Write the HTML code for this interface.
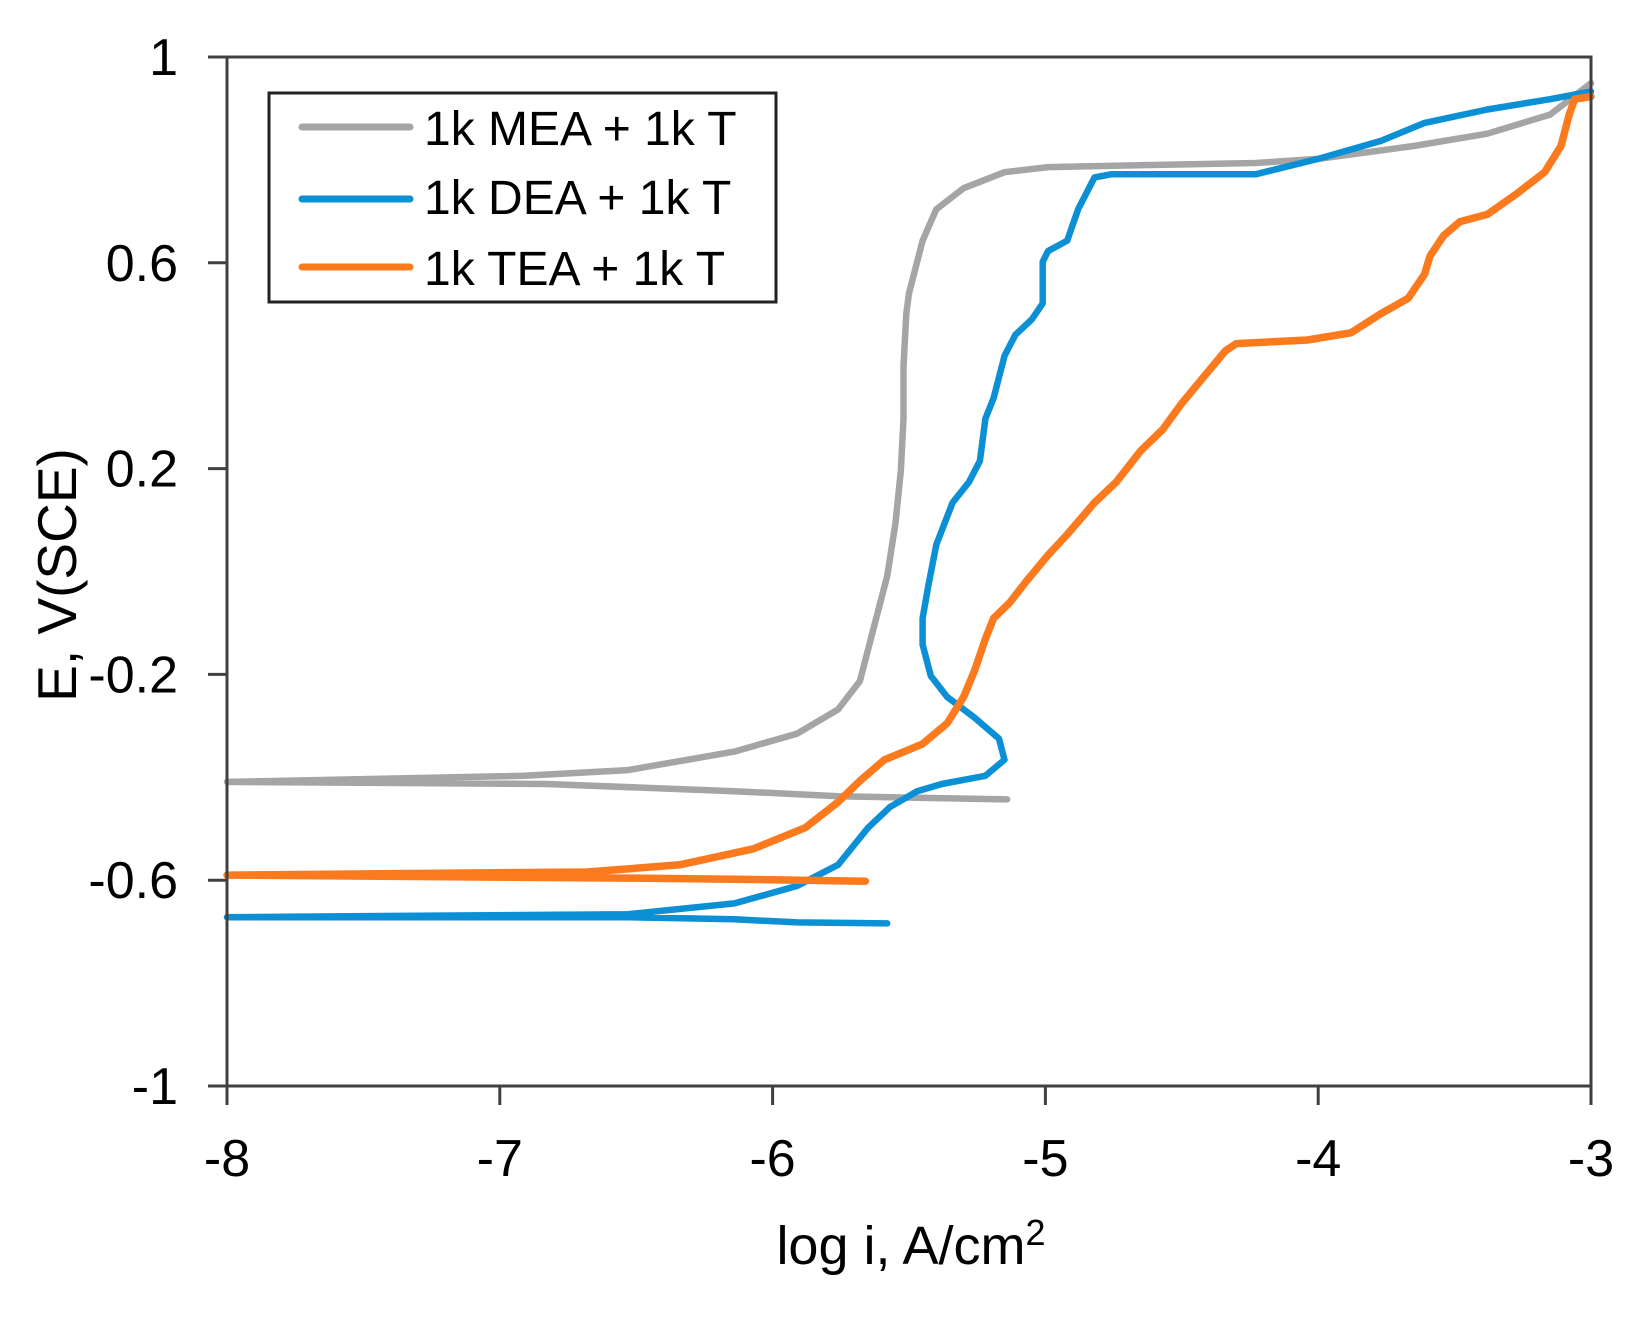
<!DOCTYPE html>
<html><head><meta charset="utf-8"><style>
html,body{margin:0;padding:0;background:#fff;}
svg{display:block;font-family:"Liberation Sans",Arial,sans-serif;}
</style></head><body>
<svg id="chart" width="1641" height="1317" viewBox="0 0 1641 1317" xmlns="http://www.w3.org/2000/svg">
<g id="plot"></g>
<g id="axes"></g>
<text x="911" y="1264" font-size="54" text-anchor="middle" fill="#000">log i, A/cm<tspan dy="-19" font-size="36">2</tspan></text>
<text transform="translate(76,575) rotate(-90)" font-size="55" text-anchor="middle" fill="#000">E, V(SCE)</text>
<g>
<rect x="269" y="93" width="507" height="209" fill="#fff" stroke="#222" stroke-width="3"/>
<g><line x1="302" y1="127" x2="410" y2="127" stroke="#a5a5a5" stroke-width="7" stroke-linecap="round"/><text x="424" y="145" font-size="48" fill="#000">1k MEA + 1k T</text></g>
<g><line x1="302" y1="199" x2="410" y2="199" stroke="#0b8fd5" stroke-width="7" stroke-linecap="round"/><text x="424" y="214" font-size="48" fill="#000">1k DEA + 1k T</text></g>
<g><line x1="302" y1="267" x2="410" y2="267" stroke="#fc7a1e" stroke-width="7" stroke-linecap="round"/><text x="424" y="285" font-size="48" fill="#000">1k TEA + 1k T</text></g>
</g>
</svg>
<script>
const xTicks = [-8,-7,-6,-5,-4,-3];
const yTicks = [1,0.6,0.2,-0.2,-0.6,-1];
const yTickLabels = ["1","0.6","0.2","-0.2","-0.6","-1"];
const meaX = [-5.14,-5.76,-6.14,-6.83,-8.00,-6.91,-6.53,-6.14,-5.91,-5.76,-5.68,-5.63,-5.58,-5.55,-5.53,-5.52,-5.52,-5.51,-5.50,-5.48,-5.45,-5.40,-5.30,-5.15,-4.99,-4.61,-4.23,-4.00,-3.65,-3.38,-3.15,-3.00];
const meaY = [-0.443,-0.437,-0.427,-0.413,-0.409,-0.397,-0.386,-0.350,-0.315,-0.268,-0.213,-0.111,-0.009,0.093,0.195,0.297,0.399,0.501,0.541,0.582,0.643,0.704,0.745,0.776,0.786,0.790,0.794,0.802,0.827,0.851,0.888,0.949];
const deaX = [-5.58,-5.91,-6.14,-6.53,-8.00,-6.53,-6.14,-5.91,-5.76,-5.65,-5.57,-5.47,-5.38,-5.22,-5.15,-5.17,-5.26,-5.36,-5.42,-5.45,-5.45,-5.43,-5.40,-5.34,-5.28,-5.24,-5.22,-5.19,-5.15,-5.11,-5.05,-5.01,-5.01,-4.99,-4.92,-4.88,-4.82,-4.76,-4.23,-4.00,-3.77,-3.61,-3.38,-3.15,-3.00];
const deaY = [-0.684,-0.682,-0.676,-0.672,-0.672,-0.666,-0.645,-0.611,-0.570,-0.498,-0.458,-0.427,-0.413,-0.397,-0.366,-0.325,-0.284,-0.244,-0.203,-0.142,-0.091,-0.030,0.052,0.134,0.174,0.215,0.297,0.337,0.419,0.460,0.490,0.521,0.602,0.623,0.643,0.704,0.766,0.772,0.772,0.802,0.837,0.872,0.898,0.918,0.933];
const teaX = [-5.66,-6.14,-6.53,-8.00,-6.68,-6.34,-6.07,-5.88,-5.76,-5.68,-5.59,-5.45,-5.36,-5.30,-5.26,-5.22,-5.19,-5.13,-5.07,-4.99,-4.92,-4.82,-4.74,-4.65,-4.57,-4.50,-4.42,-4.34,-4.30,-4.04,-3.88,-3.77,-3.67,-3.61,-3.59,-3.54,-3.48,-3.38,-3.27,-3.17,-3.11,-3.08,-3.06,-3.00];
const teaY = [-0.602,-0.598,-0.596,-0.590,-0.584,-0.570,-0.539,-0.498,-0.448,-0.407,-0.366,-0.335,-0.295,-0.244,-0.193,-0.131,-0.091,-0.060,-0.019,0.032,0.072,0.134,0.174,0.235,0.276,0.327,0.378,0.429,0.443,0.450,0.464,0.501,0.531,0.578,0.613,0.653,0.680,0.694,0.735,0.776,0.827,0.888,0.918,0.923];

const NS = "http://www.w3.org/2000/svg";
const L=227,R=1591,T=57,B=1086;
const xs = v => L + (v+8)/5*(R-L);
const ys = v => T + (1-v)/2*(B-T);
const plot = document.getElementById('plot');
const axes = document.getElementById('axes');
function mk(tag, attrs, parent){const e=document.createElementNS(NS,tag);for(const k in attrs)e.setAttribute(k,attrs[k]);parent.appendChild(e);return e;}

function series(X,Y,color,w,name){
  const d = X.map((x,i)=>(i?'L':'M')+xs(x).toFixed(1)+','+ys(Y[i]).toFixed(1)).join(' ');
  const p = mk('path',{d:d,fill:'none',stroke:color,'stroke-width':w,'stroke-linejoin':'round','stroke-linecap':'round'},plot);
  
  
}
series(meaX,meaY,'#a5a5a5',6.5,'series-mea');
series(deaX,deaY,'#0b8fd5',6.5,'series-dea');
series(teaX,teaY,'#fc7a1e',7.5,'series-tea');

const frame = mk('path',{d:`M${L},${T} H${R} V${B} H${L} Z`,fill:'none',stroke:'#404040','stroke-width':3},axes);


xTicks.forEach(v=>{
  const x=xs(v);
  const t=mk('line',{x1:x,y1:B,x2:x,y2:B+19,stroke:'#404040','stroke-width':3},axes);
  
  
  const lb=mk('text',{x:x,y:1176,'font-size':52,'text-anchor':'middle',fill:'#000'},axes);
  lb.textContent=String(v);
  
  
});
yTicks.forEach((v,i)=>{
  const y=ys(v);
  const t=mk('line',{x1:208,y1:y,x2:L,y2:y,stroke:'#404040','stroke-width':3},axes);
  
  
  const lb=mk('text',{x:178,y:y+18,'font-size':52,'text-anchor':'end',fill:'#000'},axes);
  lb.textContent=yTickLabels[i];
  
  
});
</script>
</body></html>
